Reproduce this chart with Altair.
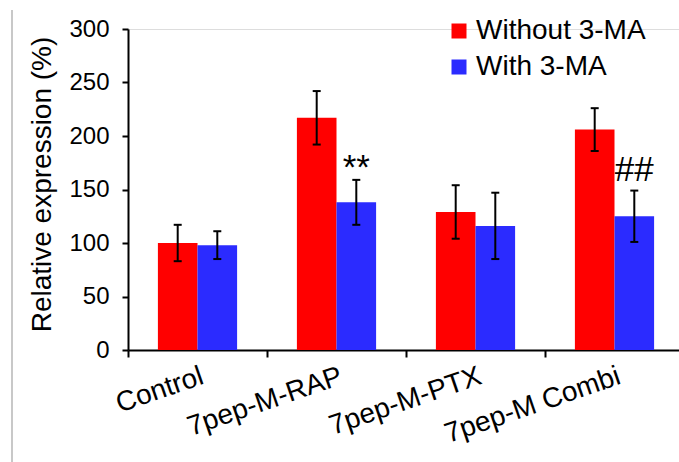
import altair as alt
import pandas as pd

categories = ["Control", "7pep-M-RAP", "7pep-M-PTX", "7pep-M Combi"]
groups = ["Without 3-MA", "With 3-MA"]
without_vals = [100, 217, 129, 206]
without_err = [17, 25, 25, 20]
with_vals = [98, 138, 116, 125]
with_err = [13, 21, 31, 24]
annot_cats = ["7pep-M-RAP", "7pep-M Combi"]
annot_text = ["**", "##"]
annot_y = [170, 168]

rows = []
for c, v, e in zip(categories, without_vals, without_err):
    rows.append({"cat": c, "grp": groups[0], "val": v, "lo": v - e, "hi": v + e})
for c, v, e in zip(categories, with_vals, with_err):
    rows.append({"cat": c, "grp": groups[1], "val": v, "lo": v - e, "hi": v + e})
df = pd.DataFrame(rows)
adf = pd.DataFrame({"cat": annot_cats, "grp": [groups[1]] * 2, "txt": annot_text, "y": annot_y})

FONT = "Liberation Sans"

x_enc = alt.X(
    "cat:N", sort=categories, title=None,
    scale=alt.Scale(range=[0, 556], paddingInner=0, paddingOuter=0),
    axis=alt.Axis(labelAngle=-19, labelAlign="right", labelBaseline="top",
                  labelFontSize=28, labelFont=FONT, labelColor="black",
                  labelPadding=5, labelLimit=400, tickBand="extent", tickSize=7, tickWidth=2,
                  tickColor="black", domainColor="black", domainWidth=2,
                  labelOverlap=False),
)
xo = alt.XOffset("grp:N", sort=groups, scale=alt.Scale(paddingOuter=0.755, paddingInner=0))
y_scale = alt.Scale(domain=[0, 300], nice=False)

color = alt.Color(
    "grp:N", sort=groups,
    scale=alt.Scale(domain=groups, range=["#FF0000", "#2B2BFF"]),
    legend=alt.Legend(title=None, orient="none", legendX=317, legendY=-12,
                      symbolType="square", symbolSize=225, symbolStrokeWidth=0,
                      labelFontSize=28, labelFont=FONT, labelColor="black",
                      labelLimit=400, labelOffset=3, rowPadding=8, symbolOpacity=1),
)

bars = alt.Chart(df).mark_bar(opacity=1).encode(
    x=x_enc, xOffset=xo,
    y=alt.Y("val:Q", scale=y_scale, title="Relative expression (%)",
            axis=alt.Axis(values=[0, 50, 100, 150, 200, 250, 300], grid=False,
                          labelFontSize=24, labelFont=FONT, labelColor="black",
                          labelPadding=13, tickSize=6, tickWidth=2, tickColor="black",
                          domainColor="black", domainWidth=2,
                          titleFontSize=28, titleFont=FONT, titleFontWeight="normal",
                          titleColor="black", titleX=-86, titleY=155,
                          titleAlign="center", titleBaseline="middle")),
    color=color,
)

err = alt.Chart(df).mark_rule(color="black", strokeWidth=2).encode(
    x=alt.X("cat:N", sort=categories), xOffset=xo,
    y=alt.Y("lo:Q", scale=y_scale), y2="hi:Q",
)
cap_lo = alt.Chart(df).mark_tick(color="black", thickness=2, size=8, opacity=1).encode(
    x=alt.X("cat:N", sort=categories), xOffset=xo, y=alt.Y("lo:Q", scale=y_scale),
)
cap_hi = alt.Chart(df).mark_tick(color="black", thickness=2, size=8, opacity=1).encode(
    x=alt.X("cat:N", sort=categories), xOffset=xo, y=alt.Y("hi:Q", scale=y_scale),
)
ann = alt.Chart(adf).mark_text(fontSize=35, font=FONT, color="black", baseline="middle").encode(
    x=alt.X("cat:N", sort=categories), xOffset=xo, y=alt.Y("y:Q", scale=y_scale),
    text="txt:N",
)
frame = alt.Chart(pd.DataFrame({"a": [0]})).mark_rule(color="#c8c8c8", strokeWidth=2).encode(
    x=alt.value(-116), y=alt.value(-19), y2=alt.value(433),
)

chart = alt.layer(bars, err, cap_lo, cap_hi, ann, frame).properties(
    width=551, height=321,
    autosize=alt.AutoSizeParams(type="none"),
    padding={"left": 128, "top": 29, "right": 0, "bottom": 112},
).configure_view(stroke=None).configure(background="white")

chart.save("out.html", embed_options={"renderer": "svg", "actions": False})
